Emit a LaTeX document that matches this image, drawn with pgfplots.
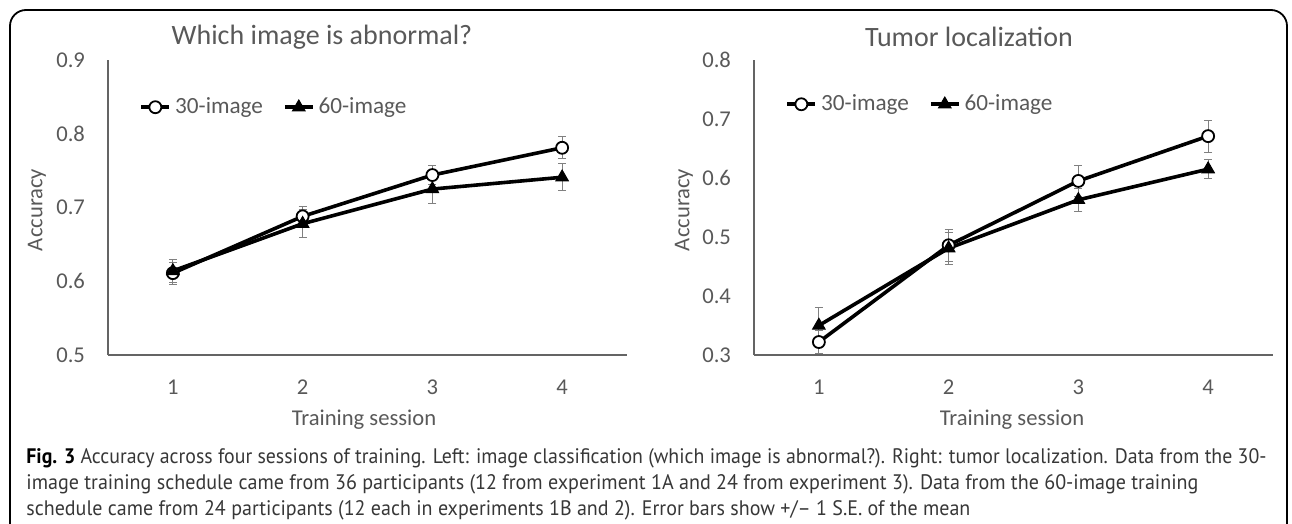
\documentclass[border=0pt]{standalone}
\usepackage{graphicx}
\usepackage{pgfplots}
\pgfplotsset{compat=1.18}
\usepackage{fontspec}
\setmainfont{Carlito}
\newfontfamily\capfont{PT Sans}
\definecolor{txt}{RGB}{89,89,89}
\definecolor{axgray}{RGB}{100,100,100}
\definecolor{errgray}{RGB}{128,128,128}
\definecolor{captxt}{RGB}{55,55,55}

\pgfplotsset{
  accstyle/.style={
    scale only axis, width=259.5pt, height=147.5pt,
    xmin=0.5, xmax=4.5,
    axis x line*=bottom, axis y line*=left,
    axis line style={-, draw=axgray, line width=0.7pt},
    xtick={1,2,3,4}, major tick length=0pt,
    /pgf/number format/assume math mode=true,
    tick label style={font=\fontsize{11.3}{13}\selectfont, text=txt},
    yticklabel style={xshift=-8pt, /pgf/number format/fixed,
      /pgf/number format/fixed zerofill, /pgf/number format/precision=1},
    xticklabel style={yshift=-9pt},
    legend columns=2,
    legend style={draw=none, fill=none, inner sep=0pt, anchor=west,
      font=\fontsize{11.6}{13}\selectfont, text=txt,
      /tikz/every even column/.append style={column sep=8pt}},
    legend image code/.code={
      \draw[mark repeat=2, mark phase=2] plot coordinates {(0pt,0pt) (7pt,0pt) (14pt,0pt)};},
    clip=false,
  },
  s30/.style={black, line width=1.8pt, mark=*, mark size=3pt,
    mark options={fill=white, draw=black, line width=0.9pt},
    error bars/.cd, y dir=both, y explicit,
    error bar style={errgray, line width=0.5pt},
    error mark options={rotate=90, errgray, line width=0.5pt, mark size=2pt}},
  s60/.style={black, line width=1.8pt, mark=triangle*, mark size=3.6pt,
    mark options={fill=black, draw=black, line width=0.5pt},
    error bars/.cd, y dir=both, y explicit,
    error bar style={errgray, line width=0.5pt},
    error mark options={rotate=90, errgray, line width=0.5pt, mark size=2pt}},
}

\begin{document}
\begin{tikzpicture}
\useasboundingbox (0,0) rectangle (646pt,-262pt);
% frame
\draw[line width=0.9pt, rounded corners=8pt] (5pt,-263pt) -- (5pt,-5pt) -- (643.5pt,-5pt) -- (643.5pt,-263pt);

% left panel
\begin{axis}[accstyle, at={(54pt,-177.5pt)}, anchor=south west,
  ymin=0.5, ymax=0.9, ytick={0.5,0.6,0.7,0.8,0.9},
  legend style={at={(0.06,0.84)}}]
  \addplot+[s30] coordinates {
    (1,0.611) +- (0,0.015)
    (2,0.688) +- (0,0.014)
    (3,0.744) +- (0,0.013)
    (4,0.781) +- (0,0.015)
  };
  \addlegendentry{30-image}
  \addplot+[s60] coordinates {
    (1,0.614) +- (0,0.016)
    (2,0.678) +- (0,0.019)
    (3,0.725) +- (0,0.020)
    (4,0.741) +- (0,0.018)
  };
  \addlegendentry{60-image}
\end{axis}

% right panel
\begin{axis}[accstyle, at={(377pt,-177.5pt)}, anchor=south west,
  ymin=0.3, ymax=0.8, ytick={0.3,0.4,0.5,0.6,0.7,0.8},
  legend style={at={(0.06,0.85)}}]
  \addplot+[s30] coordinates {
    (1,0.322) +- (0,0.020)
    (2,0.486) +- (0,0.027)
    (3,0.595) +- (0,0.027)
    (4,0.671) +- (0,0.027)
  };
  \addlegendentry{30-image}
  \addplot+[s60] coordinates {
    (1,0.350) +- (0,0.031)
    (2,0.481) +- (0,0.027)
    (3,0.563) +- (0,0.019)
    (4,0.615) +- (0,0.016)
  };
  \addlegendentry{60-image}
\end{axis}

% titles and axis labels
\node[text=txt, font=\fontsize{14}{16}\selectfont] at (161pt,-18.5pt) {Which image is abnormal?};
\node[text=txt, font=\fontsize{14}{16}\selectfont] at (484.5pt,-18.5pt) {Tumor localization};
\node[text=txt, font=\fontsize{11.3}{13}\selectfont, rotate=90] at (18.5pt,-105pt) {Accuracy};
\node[text=txt, font=\fontsize{11.3}{13}\selectfont, rotate=90] at (342pt,-105pt) {Accuracy};
\node[text=txt, font=\fontsize{11.3}{13}\selectfont] at (182pt,-210pt) {Training session};
\node[text=txt, font=\fontsize{11.3}{13}\selectfont] at (506pt,-210pt) {Training session};

% caption, each line set to the width it has in the figure
\begin{scope}[every node/.style={anchor=base west, inner sep=0pt, text=captxt, font=\capfont\fontsize{10.5}{12}\selectfont}]
\node at (13pt,-231.5pt) {\resizebox{620pt}{\height}{\textbf{\color{black}Fig. 3} Accuracy across four sessions of training. Left: image classification (which image is abnormal?). Right: tumor localization. Data from the 30-}};
\node at (13pt,-244.5pt) {\resizebox{586pt}{\height}{image training schedule came from 36 participants (12 from experiment 1A and 24 from experiment 3). Data from the 60-image training}};
\node at (13pt,-257.5pt) {\resizebox{472pt}{\height}{schedule came from 24 participants (12 each in experiments 1B and 2). Error bars show +/– 1 S.E. of the mean}};
\end{scope}
\end{tikzpicture}
\end{document}
